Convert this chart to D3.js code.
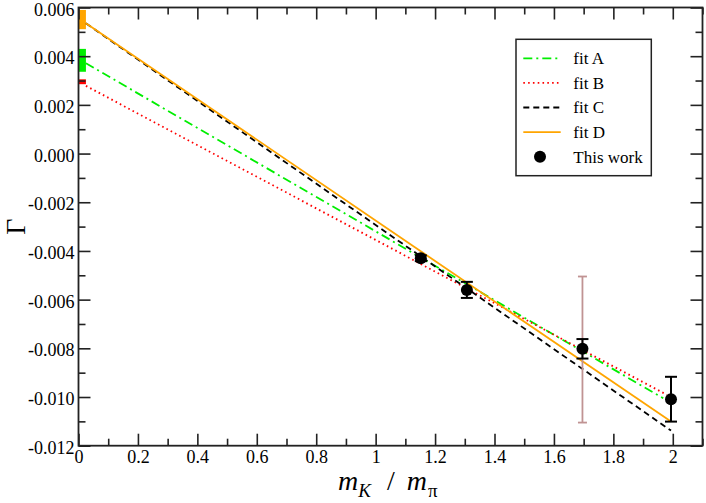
<!DOCTYPE html>
<html>
<head>
<meta charset="utf-8">
<script src="https://d3js.org/d3.v7.min.js"></script>
<style>
    body { margin: 0; background: #fff; }
</style>
</head>
<body>
<div id="target"></div>
<script>
// fit lines, start and end points
var fitNames = ["fit A", "fit B", "fit C", "fit D"];
var fitColors = ["#00ee00", "#ff0000", "#000000", "#ffa500"];
var fitDash = ["9,4,2,4", "1.6,3.2", "6,4", null];
var fitX = [[0.025, 1.968], [0.025, 1.980], [0.025, 1.994], [0.025, 1.994]];
var fitY = [[0.00371, -0.01005], [0.00278, -0.00991], [0.00535, -0.01138], [0.00535, -0.01101]];

// bands at m_K/m_pi = 0 (A, B, D)
var bandColors = ["#00ee00", "#ff0000", "#ffa500"];
var bandLow = [0.00336, 0.00285, 0.00511];
var bandHigh = [0.00430, 0.00305, 0.00590];

// "This work"
var pointX = [1.152, 1.307, 1.696, 1.994];
var pointY = [-0.0043, -0.0056, -0.00802, -0.01009];
var pointErr = [0.00012, 0.00033, 0.0004, 0.00092];

// extra (systematic) error on the third point
var sysX = [1.696];
var sysY = [-0.00805];
var sysErr = [0.003];

var xMajor = [0, 0.2, 0.4, 0.6, 0.8, 1, 1.2, 1.4, 1.6, 1.8, 2];
var xLabels = ["0", "0.2", "0.4", "0.6", "0.8", "1", "1.2", "1.4", "1.6", "1.8", "2"];
var xMinor = [0.1, 0.3, 0.5, 0.7, 0.9, 1.1, 1.3, 1.5, 1.7, 1.9, 2.1];
var yMajor = [-0.012, -0.010, -0.008, -0.006, -0.004, -0.002, 0, 0.002, 0.004, 0.006];
var yLabels = ["-0.012", "-0.010", "-0.008", "-0.006", "-0.004", "-0.002", "0.000", "0.002", "0.004", "0.006"];
var yMinor = [-0.011, -0.009, -0.007, -0.005, -0.003, -0.001, 0.001, 0.003, 0.005];

var FONT = "Liberation Serif";
var W = 706, H = 503;
var margin = {top: 7.5, right: 3.5, bottom: 57.3, left: 78.5},
    width = W - margin.left - margin.right,
    height = H - margin.top - margin.bottom;

var xScale = d3.scaleLinear().domain([0, 2.1]).range([0, width]);
var yScale = d3.scaleLinear().domain([-0.012, 0.006]).range([height, 0]);

var svg = d3.select("#target").append("svg")
    .attr("width", W)
    .attr("height", H)
    .attr("font-family", FONT)
    .append("g")
    .attr("transform", "translate(" + margin.left + "," + margin.top + ")");

// bands at zero
svg.selectAll(".band")
    .data(bandLow)
    .enter().append("rect")
    .attr("x", xScale(0))
    .attr("width", xScale(0.025) - xScale(0))
    .attr("y", function(d, i) { return yScale(bandHigh[i]); })
    .attr("height", function(d, i) { return yScale(d) - yScale(bandHigh[i]); })
    .attr("fill", function(d, i) { return bandColors[i]; });

// fit lines
var line = d3.line()
    .x(function(d) { return xScale(d[0]); })
    .y(function(d) { return yScale(d[1]); });

fitNames.forEach(function(name, i) {
    var pts = fitX[i].map(function(x, j) { return [x, fitY[i][j]]; });
    svg.append("path")
        .datum(pts)
        .attr("fill", "none")
        .attr("stroke", fitColors[i])
        .attr("stroke-width", 1.8)
        .attr("stroke-dasharray", fitDash[i])
        .attr("d", line);
});

// error bars
function errBar(g, x, y, e, color, cap, sw) {
    var cx = xScale(x);
    g.append("line").attr("x1", cx).attr("x2", cx)
        .attr("y1", yScale(y - e)).attr("y2", yScale(y + e))
        .attr("stroke", color).attr("stroke-width", sw);
    [y - e, y + e].forEach(function(v) {
        g.append("line").attr("x1", cx - cap / 2).attr("x2", cx + cap / 2)
            .attr("y1", yScale(v)).attr("y2", yScale(v))
            .attr("stroke", color).attr("stroke-width", sw);
    });
}

sysX.forEach(function(x, i) { errBar(svg, x, sysY[i], sysErr[i], "#c09393", 9, 1.8); });
pointX.forEach(function(x, i) { errBar(svg, x, pointY[i], pointErr[i], "#000", 12, 2); });

svg.selectAll(".dot")
    .data(pointX)
    .enter().append("circle")
    .attr("cx", function(d) { return xScale(d); })
    .attr("cy", function(d, i) { return yScale(pointY[i]); })
    .attr("r", 6)
    .attr("fill", "#000");

// axes, ticks pointing inwards on all four sides
function styleAxis(g) {
    g.attr("font-family", FONT).attr("font-size", 18);
    g.select(".domain").remove();
    g.selectAll(".tick line").attr("stroke", "#222").attr("stroke-width", 1.6);
    g.selectAll("text").attr("fill", "#000");
}

svg.append("g").attr("transform", "translate(0," + height + ")")
    .call(d3.axisBottom(xScale).tickValues(xMajor).tickSize(-12).tickPadding(4.5)
        .tickFormat(function(d, i) { return xLabels[i]; }))
    .call(styleAxis);
svg.append("g").attr("transform", "translate(0," + height + ")")
    .call(d3.axisBottom(xScale).tickValues(xMinor).tickSize(-7).tickFormat(""))
    .call(styleAxis);
svg.append("g")
    .call(d3.axisTop(xScale).tickValues(xMajor).tickSize(-12).tickFormat(""))
    .call(styleAxis);
svg.append("g")
    .call(d3.axisTop(xScale).tickValues(xMinor).tickSize(-7).tickFormat(""))
    .call(styleAxis);

svg.append("g")
    .call(d3.axisLeft(yScale).tickValues(yMajor).tickSize(-12).tickPadding(4)
        .tickFormat(function(d, i) { return yLabels[i]; }))
    .call(styleAxis)
    .selectAll("text").attr("dy", "0.42em");
svg.append("g")
    .call(d3.axisLeft(yScale).tickValues(yMinor).tickSize(-7).tickFormat(""))
    .call(styleAxis);
svg.append("g").attr("transform", "translate(" + width + ",0)")
    .call(d3.axisRight(yScale).tickValues(yMajor).tickSize(-12).tickFormat(""))
    .call(styleAxis);
svg.append("g").attr("transform", "translate(" + width + ",0)")
    .call(d3.axisRight(yScale).tickValues(yMinor).tickSize(-7).tickFormat(""))
    .call(styleAxis);

// frame
svg.append("rect")
    .attr("width", width).attr("height", height)
    .attr("fill", "none").attr("stroke", "#222").attr("stroke-width", 1.8);

// axis titles
var xt = svg.append("text")
    .attr("x", 338 - margin.left).attr("y", 490 - margin.top)
    .attr("font-size", 28);
xt.append("tspan").attr("font-style", "italic").text("m");
xt.append("tspan").attr("font-style", "italic").attr("font-size", 19).attr("dy", 7).text("K");
xt.append("tspan").attr("dy", -7).attr("dx", 16).text("/");
xt.append("tspan").attr("font-style", "italic").attr("dx", 12).text("m");
xt.append("tspan").attr("font-size", 19).attr("dy", 7).attr("dx", 1).text("π");

svg.append("text")
    .attr("transform", "translate(" + (25 - margin.left) + "," + (height / 2) + ") rotate(-90)")
    .attr("text-anchor", "middle")
    .attr("font-size", 28)
    .text("Γ");

// legend
var legend = svg.append("g").attr("transform", "translate(" + (516 - margin.left) + "," + (39.3 - margin.top) + ")");
legend.append("rect")
    .attr("width", 135.3).attr("height", 136.4)
    .attr("fill", "#fff").attr("stroke", "#222").attr("stroke-width", 1.5);

var legendNames = fitNames.concat(["This work"]);
legendNames.forEach(function(name, i) {
    var ly = 19 + i * 24.6;
    if (i < fitNames.length) {
        legend.append("line")
            .attr("x1", 7.3).attr("x2", 44.7).attr("y1", ly).attr("y2", ly)
            .attr("stroke", fitColors[i]).attr("stroke-width", 1.8)
            .attr("stroke-dasharray", fitDash[i]);
    } else {
        legend.append("circle").attr("cx", 24).attr("cy", ly).attr("r", 6).attr("fill", "#000");
    }
    legend.append("text")
        .attr("x", 57.3).attr("y", ly + 6)
        .attr("font-size", 17)
        .text(name);
});
</script>
</body>
</html>
